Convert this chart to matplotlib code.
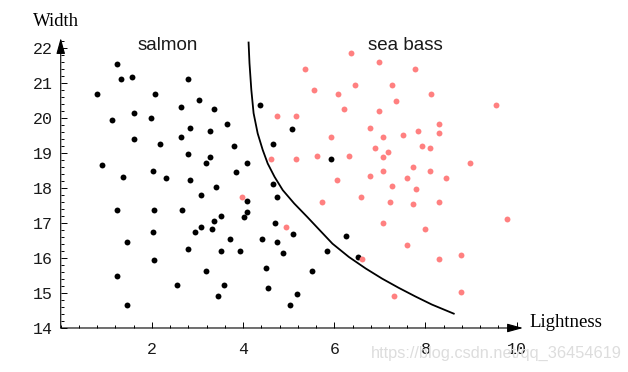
import matplotlib.pyplot as plt
from matplotlib.ticker import MultipleLocator, FixedLocator

# salmon (black points)
salmon_x = [1.24, 1.32, 1.57, 2.79, 0.79, 2.06, 3.03, 2.63, 3.36, 4.38,
            1.12, 1.61, 1.97, 3.64, 2.83, 3.28, 5.07, 1.61, 2.63, 2.17,
            4.66, 3.81, 2.79, 3.27, 3.19, 4.09, 0.91, 2.02, 3.85, 1.37,
            2.30, 2.83, 3.40, 4.66, 3.07, 4.74, 4.09, 1.24, 2.05, 2.66,
            4.09, 3.52, 4.02, 3.36, 3.08, 3.32, 4.69, 2.95, 2.02, 1.45,
            3.72, 4.42, 4.74, 5.10, 2.79, 3.52, 3.93, 4.87, 2.05, 4.50,
            3.19, 5.52, 1.24, 2.55, 3.57, 4.54, 3.44, 5.19, 1.45, 5.03,
            6.25, 5.84, 6.53, 5.92]
salmon_y = [21.55, 21.11, 21.17, 21.12, 20.69, 20.68, 20.53, 20.32, 20.26, 20.37,
            19.95, 20.15, 19.99, 19.83, 19.72, 19.62, 19.68, 19.41, 19.46, 19.25,
            19.25, 19.19, 18.98, 18.88, 18.71, 18.71, 18.66, 18.50, 18.45, 18.33,
            18.28, 18.23, 18.02, 18.13, 17.80, 17.75, 17.64, 17.38, 17.38, 17.38,
            17.32, 17.21, 17.17, 17.05, 16.90, 16.84, 17.00, 16.74, 16.74, 16.47,
            16.53, 16.53, 16.47, 16.69, 16.26, 16.20, 16.20, 16.15, 15.93, 15.72,
            15.62, 15.62, 15.50, 15.24, 15.24, 15.13, 14.92, 14.97, 14.65, 14.65,
            16.63, 16.20, 16.04, 18.82]

# sea bass (pink points)
bass_x = [4.74, 5.15, 4.62, 5.15, 5.36, 5.56, 5.63, 3.97, 4.95, 6.05,
          7.27, 7.79, 5.72, 6.58, 7.22, 7.72, 8.29, 9.79, 7.07, 8.00,
          7.60, 6.61, 8.29, 8.78, 7.31, 8.78, 6.37, 6.98, 7.76, 6.45,
          7.27, 6.09, 8.12, 7.35, 9.55, 6.21, 6.98, 6.78, 8.29, 8.29,
          5.92, 7.07, 7.51, 7.84, 6.90, 7.92, 8.09, 7.18, 6.33, 7.07,
          8.98, 7.72, 8.09, 7.07, 6.78, 7.60, 8.45]
bass_y = [20.05, 20.05, 18.82, 18.82, 21.39, 20.80, 18.93, 17.75, 16.90, 18.23,
          18.07, 17.97, 17.59, 17.75, 17.59, 17.54, 17.59, 17.11, 17.00, 16.84,
          16.36, 15.98, 15.98, 16.10, 14.92, 15.03, 21.87, 21.60, 21.39, 20.96,
          20.96, 20.69, 20.69, 20.48, 20.37, 20.26, 20.21, 19.72, 19.84, 19.56,
          19.46, 19.46, 19.52, 19.62, 19.14, 19.19, 19.14, 19.03, 18.92, 18.88,
          18.71, 18.61, 18.50, 18.50, 18.34, 18.28, 18.28]

# decision boundary
curve_x = [4.12, 4.14, 4.18, 4.23, 4.32, 4.43, 4.54, 4.69, 4.87, 5.12,
           5.41, 5.67, 5.96, 6.32, 6.69, 7.05, 7.41, 7.78, 8.14, 8.62]
curve_y = [22.16, 21.57, 20.81, 20.14, 19.56, 19.09, 18.70, 18.32, 17.94, 17.56,
           17.17, 16.81, 16.41, 16.03, 15.70, 15.41, 15.15, 14.90, 14.67, 14.41]

x_ticks = [2, 4, 6, 8, 10]
y_ticks = [14, 15, 16, 17, 18, 19, 20, 21, 22]

fig = plt.figure(figsize=(6.28, 3.72), dpi=100)
ax = fig.add_axes([0.0967, 0.1183, 0.7362, 0.7796])
ax.set_xlim(0, 10.14)
ax.set_ylim(14, 22.29)

ax.scatter(salmon_x, salmon_y, s=18, color='black', linewidths=0, zorder=3)
ax.scatter(bass_x, bass_y, s=18, color='#ff8080', linewidths=0, zorder=3)
ax.plot(curve_x, curve_y, color='black', lw=1.3, clip_on=False)

# axes as arrows
for s in ax.spines.values():
    s.set_visible(False)
arrow = dict(arrowstyle='-|>,head_length=0.8,head_width=0.22', color='black',
             lw=0.8, mutation_scale=12, shrinkA=0, shrinkB=0)
ax.annotate('', xy=(1, 0), xytext=(0, 0), xycoords='axes fraction', arrowprops=arrow)
ax.annotate('', xy=(0, 1), xytext=(0, 0), xycoords='axes fraction', arrowprops=arrow)

ax.xaxis.set_major_locator(FixedLocator(x_ticks))
ax.yaxis.set_major_locator(FixedLocator(y_ticks))
ax.xaxis.set_minor_locator(MultipleLocator(0.4))
ax.yaxis.set_minor_locator(MultipleLocator(0.2))
ax.tick_params(which='both', direction='in', width=0.7, colors='black',
               labelcolor='#1a1a1a')
ax.tick_params(which='major', length=4)
ax.tick_params(which='minor', length=2.5)
ax.tick_params(axis='x', pad=10)
ax.tick_params(axis='y', pad=6)
for lab in ax.get_xticklabels() + ax.get_yticklabels():
    lab.set_family('Liberation Mono')
    lab.set_fontsize(12)

ax.text(-0.10, 22.75, 'Width', family='Liberation Serif', fontsize=13.5,
        ha='center', va='center', clip_on=False)
ax.text(10.29, 14.15, 'Lightness', family='Liberation Serif', fontsize=13.5,
        ha='left', va='center', clip_on=False)
ax.text(2.34, 22.07, 'salmon', family='Liberation Sans', fontsize=13.5,
        ha='center', va='center', color='#1a1a1a')
ax.text(7.55, 22.07, 'sea bass', family='Liberation Sans', fontsize=13.5,
        ha='center', va='center', color='#1a1a1a')

fig.text(0.791, 0.051, 'https://blog.csdn.net/qq_36454619', family='Liberation Sans',
         fontsize=11.8, color='#dddddd', ha='center', va='center')

fig.savefig('out.png', dpi=100)
